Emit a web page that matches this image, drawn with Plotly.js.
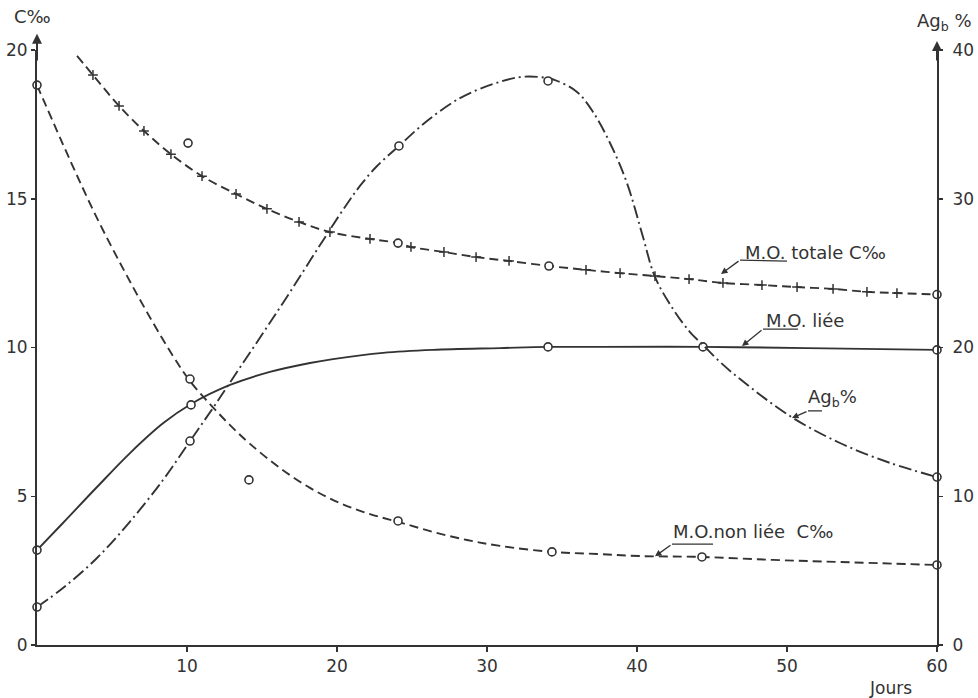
<!DOCTYPE html>
<html>
<head>
<meta charset="utf-8">
<script src="https://cdn.plot.ly/plotly-3.0.1.min.js"></script>
<style>html,body{margin:0;padding:0;background:#fff;}#chart{width:978px;height:698px;}</style>
</head>
<body>
<div id="chart"></div>
<script>
// ---- Data (days, C‰ / Ag_b %) ----
// M.O. totale C‰ (dashed with + marks)
const totaleDays = [2.67, 3.73, 5.47, 7.13, 8.93, 11.0, 13.27, 15.33, 17.47, 19.53, 22.2, 24.07, 24.93, 27.13, 29.27, 31.47, 34.13, 36.6, 38.87, 41.2, 43.47, 45.73, 48.33, 50.67, 53.07, 55.33, 57.33, 60];
const totaleC    = [19.80, 19.16, 18.12, 17.28, 16.50, 15.76, 15.16, 14.66, 14.22, 13.88, 13.65, 13.51, 13.38, 13.21, 13.04, 12.91, 12.74, 12.61, 12.50, 12.40, 12.30, 12.17, 12.10, 12.03, 11.97, 11.87, 11.83, 11.78];
const totalePlusDays = [3.73, 5.47, 7.13, 8.93, 11.0, 13.27, 15.33, 17.47, 19.53, 22.2, 24.93, 27.13, 29.27, 31.47, 36.6, 38.87, 41.2, 43.47, 45.73, 48.33, 50.67, 53.07, 55.33, 57.33];
const totalePlusC    = [19.16, 18.12, 17.28, 16.50, 15.76, 15.16, 14.66, 14.22, 13.88, 13.65, 13.38, 13.21, 13.04, 12.91, 12.61, 12.50, 12.40, 12.30, 12.17, 12.10, 12.03, 11.97, 11.87, 11.83];
const totaleObsDays = [10.07, 24.07, 34.13, 60];
const totaleObsC    = [16.87, 13.51, 12.74, 11.78];

// M.O. non liée C‰ (dashed)
const nonLieeDays = [0, 2.2, 4.0, 5.73, 7.33, 9.07, 10.2, 11.53, 12.87, 14.2, 16.2, 18.2, 20.2, 22.2, 24.2, 26.4, 28.67, 30.87, 34.33, 37.33, 40.2, 44.33, 49.07, 53.53, 60];
const nonLieeC    = [18.82, 16.30, 14.35, 12.66, 11.19, 9.71, 8.87, 8.10, 7.39, 6.76, 5.95, 5.28, 4.77, 4.40, 4.12, 3.80, 3.53, 3.33, 3.13, 3.06, 2.99, 2.96, 2.86, 2.79, 2.69];
const nonLieeObsDays = [0, 10.2, 14.13, 24.07, 34.33, 44.33, 60];
const nonLieeObsC    = [18.82, 8.94, 5.55, 4.17, 3.13, 2.96, 2.69];

// M.O. liée (solid)
const lieeDays = [0, 1.73, 4.0, 6.2, 8.4, 10.27, 12.87, 15.53, 18.2, 19.73, 23.07, 26.4, 30.87, 34.07, 37.53, 44.4, 51.33, 60];
const lieeC    = [3.19, 4.10, 5.31, 6.45, 7.45, 8.10, 8.74, 9.18, 9.48, 9.61, 9.82, 9.92, 9.98, 10.02, 10.02, 10.02, 9.98, 9.92];
const lieeObsDays = [0, 10.27, 34.07, 44.4, 60];
const lieeObsC    = [3.19, 8.07, 10.02, 10.02, 9.92];

// Ag_b % (dash-dot, right axis)
const agDays = [0, 1.73, 4.0, 6.2, 8.4, 10.2, 11.73, 13.33, 15.07, 16.87, 18.87, 20.53, 21.53, 22.67, 24.13, 26.0, 28.2, 30.4, 32.2, 33.53, 34.53, 36.0, 37.07, 38.2, 39.33, 40.4, 41.2, 42.4, 43.53, 44.4, 45.53, 46.87, 50.2, 53.53, 56.87, 60];
const agPct  = [2.55, 3.83, 5.85, 8.30, 11.09, 13.71, 15.93, 18.35, 20.97, 23.73, 26.89, 29.45, 30.86, 32.20, 33.55, 35.23, 36.77, 37.71, 38.18, 38.18, 37.98, 37.18, 35.83, 33.75, 31.06, 27.43, 24.74, 22.59, 21.04, 20.17, 19.03, 17.88, 15.39, 13.58, 12.24, 11.29];
const agObsDays = [0, 10.2, 24.13, 34.07, 60];
const agObsPct  = [2.55, 13.71, 33.55, 37.92, 11.29];

// Tick labels
const xTicks = [10, 20, 30, 40, 50, 60];
const yLeftTicks = [0, 5, 10, 15, 20];
const yRightTicks = [0, 10, 20, 30, 40];

// ---- Styling ----
const INK = '#333333';
const FONT = 'DejaVu Sans';

function lineTrace(x, y, dash, axis) {
  return {x: x, y: y, type: 'scatter', mode: 'lines', yaxis: axis || 'y',
    line: {color: INK, width: 1.9, dash: dash, shape: 'spline', smoothing: 1}, hoverinfo: 'skip', cliponaxis: false};
}
function circleTrace(x, y, axis) {
  return {x: x, y: y, type: 'scatter', mode: 'markers', yaxis: axis || 'y',
    marker: {symbol: 'circle', size: 8, color: '#ffffff', line: {color: INK, width: 1.6}}, hoverinfo: 'skip', cliponaxis: false};
}

const traces = [
  lineTrace(totaleDays, totaleC, '9px,5px'),
  {x: totalePlusDays, y: totalePlusC, type: 'scatter', mode: 'markers',
   marker: {symbol: 'cross-thin', size: 7, color: INK, line: {color: INK, width: 1.5}}, hoverinfo: 'skip'},
  lineTrace(nonLieeDays, nonLieeC, '9px,5px'),
  lineTrace(lieeDays, lieeC, 'solid'),
  lineTrace(agDays, agPct, '13px,4px,2px,4px', 'y2'),
  circleTrace(totaleObsDays, totaleObsC),
  circleTrace(nonLieeObsDays, nonLieeObsC),
  circleTrace(lieeObsDays, lieeObsC),
  circleTrace(agObsDays, agObsPct, 'y2')
];

const axisCommon = {
  showline: true, linecolor: INK, linewidth: 2, ticks: 'outside', ticklen: 5, tickwidth: 1.5, tickcolor: INK,
  showgrid: false, zeroline: false, fixedrange: true,
  tickfont: {family: FONT, size: 17, color: INK}
};

const txt = (s, x, y, size, extra) => Object.assign({text: s, x: x, y: y, xref: 'x', yref: 'y', showarrow: false,
  font: {family: FONT, size: size || 18, color: INK}}, extra || {});
const ptxt = (s, x, y, size) => ({text: s, x: x, y: y, xref: 'paper', yref: 'paper', showarrow: false,
  xanchor: 'center', yanchor: 'middle', font: {family: FONT, size: size || 17, color: INK}});
const arrow = (x, y, ax, ay, w, head) => ({text: '', x: x, y: y, ax: ax, ay: ay, xref: 'x', yref: 'y', axref: 'x', ayref: 'y',
  showarrow: true, arrowhead: head || 2, arrowsize: 1, arrowwidth: w || 1.3, arrowcolor: INK});

const annotations = [
  // axis titles
  ptxt('C‰', -0.005, 1.057, 18),
  ptxt('Ag<sub>b</sub> %', 1.008, 1.047, 18),
  ptxt('Jours', 0.948, -0.072, 17),
  // axis arrows
  arrow(0, 20.55, 0, 19.6, 2, 2),
  arrow(60, 20.3, 60, 19.6, 2, 2),
  // curve labels
  txt('M.O. totale C‰', 51.9, 13.2),
  arrow(45.6, 12.47, 46.87, 12.94),
  txt('M.O. liée', 51.2, 10.92),
  arrow(47.0, 10.05, 48.4, 10.62),
  txt('Ag<sub>b</sub>%', 53.0, 8.3),
  arrow(50.33, 7.63, 51.4, 7.87),
  txt('M.O.non liée  C‰', 47.7, 3.8),
  arrow(41.2, 2.98, 42.33, 3.39)
];

const shapes = [
  {type: 'line', xref: 'x', yref: 'y', x0: 46.87, y0: 12.94, x1: 50.0, y1: 12.9, line: {color: INK, width: 1.3}},
  {type: 'line', xref: 'x', yref: 'y', x0: 48.4, y0: 10.62, x1: 50.73, y1: 10.62, line: {color: INK, width: 1.3}},
  {type: 'line', xref: 'x', yref: 'y', x0: 51.4, y0: 7.87, x1: 52.33, y1: 7.87, line: {color: INK, width: 1.3}},
  {type: 'line', xref: 'x', yref: 'y', x0: 42.33, y0: 3.39, x1: 45.07, y1: 3.39, line: {color: INK, width: 1.3}}
];

const layout = {
  width: 978, height: 698,
  margin: {l: 37, r: 41, t: 50, b: 53, pad: 0},
  paper_bgcolor: '#ffffff', plot_bgcolor: '#ffffff',
  showlegend: false,
  xaxis: Object.assign({}, axisCommon, {range: [0, 60], tickvals: xTicks, ticktext: xTicks.map(String)}),
  yaxis: Object.assign({}, axisCommon, {range: [0, 20], tickvals: yLeftTicks, ticklen: 4}),
  yaxis2: Object.assign({}, axisCommon, {range: [0, 40], tickvals: yRightTicks, overlaying: 'y', side: 'right', anchor: 'x', ticklen: 4, ticklabelstandoff: 6}),
  annotations: annotations,
  shapes: shapes
};

Plotly.newPlot('chart', traces, layout, {staticPlot: true, displayModeBar: false});
</script>
</body>
</html>
